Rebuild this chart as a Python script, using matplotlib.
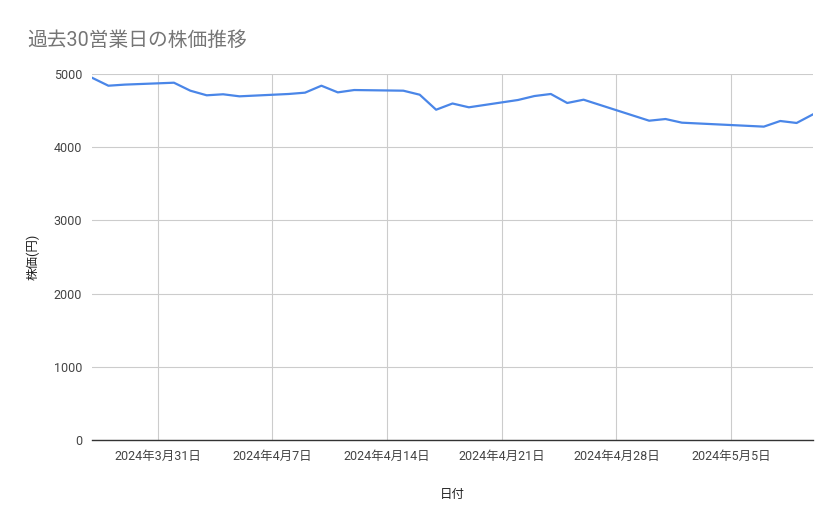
import matplotlib
matplotlib.use("Agg")
import matplotlib.pyplot as plt
import numpy as np

plt.rcParams["font.family"] = ["Roboto", "Noto Sans CJK JP", "DejaVu Sans"]

# 日付(営業日)と終値
dates = [
    "2024-03-27", "2024-03-28", "2024-03-29",
    "2024-04-01", "2024-04-02", "2024-04-03", "2024-04-04", "2024-04-05",
    "2024-04-08", "2024-04-09", "2024-04-10", "2024-04-11", "2024-04-12",
    "2024-04-15", "2024-04-16", "2024-04-17", "2024-04-18", "2024-04-19",
    "2024-04-22", "2024-04-23", "2024-04-24", "2024-04-25", "2024-04-26",
    "2024-04-30", "2024-05-01", "2024-05-02",
    "2024-05-07", "2024-05-08", "2024-05-09", "2024-05-10",
]
prices = [
    4949, 4840, 4855,
    4881, 4772, 4709, 4723, 4695,
    4727, 4745, 4840, 4749, 4781,
    4772, 4717, 4512, 4597, 4545,
    4645, 4699, 4727, 4604, 4649,
    4362, 4385, 4335,
    4281, 4358, 4331, 4449,
]
week_ticks = ["2024-03-31", "2024-04-07", "2024-04-14", "2024-04-21", "2024-04-28", "2024-05-05"]
y_ticks = [0, 1000, 2000, 3000, 4000, 5000]

x = np.array(dates, dtype="datetime64[D]")
xt = np.array(week_ticks, dtype="datetime64[D]")

fig = plt.figure(figsize=(8.39, 5.19), dpi=100)
ax = fig.add_axes([92 / 839, 1 - 440 / 519, (813 - 92) / 839, (440 - 74) / 519])

ax.plot(x, prices, color="#4a86e8", lw=1.6, solid_joinstyle="round", zorder=3)

ax.set_xlim(x[0], x[-1])
ax.set_ylim(0, 5000)
ax.set_yticks(y_ticks)
ax.set_xticks(xt)
ax.set_xticklabels([f"{d.year}年{d.month}月{d.day}日" for d in xt.astype(object)])

ax.grid(True, color="#cccccc", lw=0.8)
ax.set_axisbelow(True)
for s in ["top", "right", "left"]:
    ax.spines[s].set_visible(False)
ax.spines["bottom"].set_color("#333333")
ax.spines["bottom"].set_linewidth(1.0)
ax.spines["bottom"].set_zorder(2)
ax.tick_params(axis="both", length=0, labelsize=9, labelcolor="#444444")
ax.tick_params(axis="x", pad=7)
ax.tick_params(axis="y", pad=7)

ax.set_xlabel("日付", fontsize=9, color="#222222", labelpad=18)
ax.set_ylabel("株価(円)", fontsize=9, color="#222222", labelpad=10)

fig.text(27 / 839, 1 - 40 / 519, "過去30営業日の株価推移", fontsize=14.2,
         color="#757575", va="center", ha="left")

fig.savefig("out.png", dpi=100)
